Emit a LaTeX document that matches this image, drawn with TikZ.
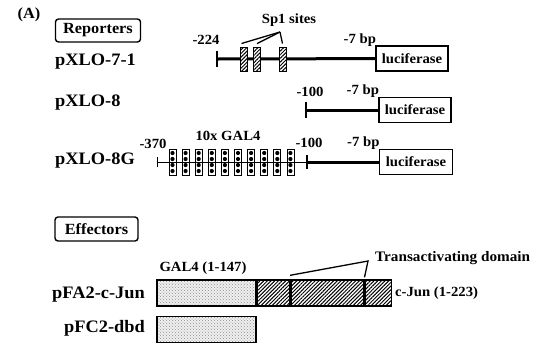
\documentclass[tikz,border=0pt]{standalone}
\usepackage{fontspec}
\setmainfont{Liberation Serif}[FakeStretch=1.05]
\usetikzlibrary{positioning,patterns,patterns.meta}
\tikzset{
  nm/.style={font=\fontsize{17.5}{19}\selectfont\bfseries,inner sep=0pt},
  sm/.style={font=\fontsize{14}{16}\selectfont\bfseries,inner sep=0pt},
  hdr/.style={rectangle,draw,rounded corners=3pt,line width=1.4pt,font=\fontsize{15.5}{17}\selectfont\bfseries,minimum width=85pt,minimum height=23pt,inner sep=0pt},
  luc/.style={rectangle,draw,line width=1.6pt,fill=white,minimum width=72pt,minimum height=25pt,inner sep=0pt,font=\fontsize{14}{16}\selectfont\bfseries},
  dna/.style={line width=3pt},
  thin/.style={line width=1pt},
  tck/.style={line width=2.5pt},
  hatch/.style={preaction={fill=white},pattern={Lines[angle=45,distance=2.6pt,line width=1pt]}},
  sp1/.style={rectangle,draw,line width=0.8pt,hatch,minimum width=7pt,minimum height=24pt,inner sep=0pt},
  gsite/.style={rectangle,draw,line width=0.8pt,fill=white,minimum width=7pt,minimum height=26pt,inner sep=0pt},
  dbd/.style={rectangle,draw,line width=1.4pt,preaction={fill=gray!12},pattern=crosshatch dots,pattern color=gray!90,minimum height=26pt,inner sep=0pt},
  jun/.style={rectangle,draw,line width=1.4pt,hatch,minimum height=26pt,inner sep=0pt},
  ldr/.style={line width=1.3pt},
}
\begin{document}
\begin{tikzpicture}[x=1pt,y=-1pt]
  \useasboundingbox (0,0) rectangle (537,346);
  \node[sm,font=\fontsize{15.5}{17}\selectfont\bfseries] (pa) at (29,15) {(A)};
  % reporters
  \node[hdr] (rep) at (98,30.5) {Reporters};
  \node[nm,anchor=west] (r1) at (55,62) {pXLO-7-1};
  \node[nm,anchor=west] (r2) at (55,103) {pXLO-8};
  \node[nm,anchor=west] (r3) at (55,161) {pXLO-8G};
  % pXLO-7-1
  \coordinate (t1) at (217,59);
  \node[luc] (luc1) at (412,58.5) {luciferase};
  \draw[dna] (t1) -- (luc1); \draw[tck] ([yshift=-8pt]t1) -- ([yshift=8pt]t1);
  \node[sp1] (s1) at (243.5,59) {}; \node[sp1] (s2) at (257,59) {}; \node[sp1] (s3) at (282.5,59) {};
  \node[sm] (n224) at (206,40) {-224};
  \node[sm,anchor=south east] (bp1) at ([xshift=1pt,yshift=-1pt]luc1.north west) {-7 bp};
  \node[sm] (sps) at (289,20) {Sp1 sites};
  \coordinate (ap) at (280,32);
  \draw[ldr] ([xshift=-2pt,yshift=3pt]s1.north) -- (ap); \draw[ldr] ([yshift=3pt]s2.north) -- (ap); \draw[ldr] (ap) -- ([yshift=3pt]s3.north);
  % pXLO-8
  \coordinate (t2) at (306,110);
  \node[luc] (luc2) at (415,110) {luciferase};
  \draw[dna] (t2) -- (luc2); \draw[tck] ([yshift=-8pt]t2) -- ([yshift=8pt]t2);
  \node[sm] (n100a) at (310,92) {-100};
  \node[sm,anchor=south east] (bp2) at ([xshift=1pt,yshift=-1pt]luc2.north west) {-7 bp};
  % pXLO-8G
  \coordinate (t3) at (157,162); \coordinate (t4) at (307,162);
  \node[luc,minimum width=73pt] (luc3) at (416,162) {luciferase};
  \foreach \i in {0,...,9} {
    \node[gsite] (g\i) at ({172.5+13.1*\i},162) {};
    \foreach \d in {-9,-3,3,9} \fill ([yshift=\d pt]g\i.center) circle (2.1);
  }
  \draw[thin] (t3) -- (t4); \draw[thin] ([yshift=-5pt]t3) -- ([yshift=5pt]t3);
  \draw[dna] (t4) -- (luc3); \draw[tck] ([yshift=-7pt]t4) -- ([yshift=7pt]t4);
  \node[sm] (n370) at (153,144) {-370};
  \node[sm] (gal) at (228,136) {10x GAL4};
  \node[sm] (n100b) at (309,143) {-100};
  \node[sm,anchor=south east] (bp3) at ([xshift=1pt,yshift=-1pt]luc3.north west) {-7 bp};
  % effectors
  \node[hdr,minimum width=83pt,minimum height=24pt] (eff) at (96.5,229) {Effectors};
  \node[nm,anchor=east] (e1) at (145,295) {pFA2-c-Jun};
  \node[nm,anchor=east] (e2) at (145,328) {pFC2-dbd};
  \node[dbd,minimum width=99pt] (d1) at (206.5,293) {};
  \node[jun,minimum width=32pt,right=0pt of d1] (j1) {};
  \node[jun,minimum width=73pt,right=0pt of j1] (j2) {};
  \node[jun,minimum width=26pt,right=0pt of j2] (j3) {};
  \draw[line width=2.2pt] (j1.north east) -- (j1.south east); \draw[line width=2.2pt] (j2.north east) -- (j2.south east);
  \node[dbd,minimum width=99pt] (d2) at (206.5,329.5) {};
  \node[sm] (g147) at (203,268) {GAL4 (1-147)};
  \node[sm,anchor=west] (cjun) at (395,293) {c-Jun (1-223)};
  \node[sm,anchor=west,font=\fontsize{14.5}{16}\selectfont\bfseries] (tad) at (375,258) {Transactivating domain};
  \coordinate (tp) at (368,261);
  \draw[ldr] ([yshift=4pt]j1.north east) -- (tp) -- ([yshift=2pt]j2.north east);
\end{tikzpicture}
\end{document}
